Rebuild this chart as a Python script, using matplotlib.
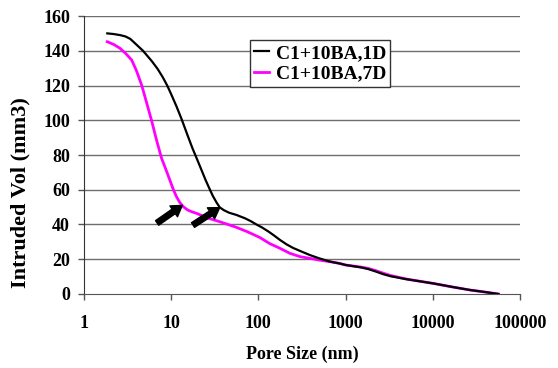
import matplotlib
matplotlib.use("Agg")
import matplotlib.pyplot as plt

plt.rcParams["font.family"] = ["Liberation Serif", "DejaVu Serif"]
plt.rcParams["font.weight"] = "bold"

# ---- data ----
size_1d = [1.85, 2.2, 2.6, 3.0, 3.4, 4.0, 4.75, 6.0, 7.0, 8.0, 9.0, 10, 11.5, 13.2,
           15.5, 17.5, 19.6, 22, 24.8, 27.9, 30, 33, 36, 40, 46, 56, 70, 82, 95,
           110, 130, 150, 177, 210, 250, 300, 390, 500, 665, 850, 1000, 1500, 1800,
           2200, 2700, 3300, 5000, 10100, 17000, 26700, 40000, 56500]
vol_1d = [150, 149.6, 149, 148.2, 146.8, 143.5, 140, 134, 129.5, 124.8, 120,
          115, 108, 100.5, 91, 84, 78.1, 72, 65.6, 59.9, 56.5, 52.8, 49.9,
          48.3, 46.8, 45.5, 43.6, 41.9, 40, 38.3, 36, 33.8, 31.1, 28.6, 26.5, 24.8,
          22.4, 20.5, 18.6, 17.6, 16.7, 15.3, 14.4, 13.0, 11.4, 10.2, 8.5, 6.1,
          4.0, 2.3, 1.1, 0]

size_7d = [1.85, 2.2, 2.59, 3.0, 3.52, 4.0, 4.58, 5.2, 5.97, 6.8, 7.77, 8.5, 9.5,
           10.6, 11.5, 12.5, 13.8, 15.5, 17.5, 19.6, 26, 36, 55, 75, 104, 135,
           177, 230, 300, 390, 500, 665, 850, 1000, 1500, 1800, 2200, 2700, 3300,
           5000, 10100, 17000, 26700, 40000, 56500]
vol_7d = [145.2, 143.6, 141.4, 138.5, 134.7, 128.5, 120.3, 110.5, 99.7, 88.5, 78,
          73, 66.5, 60, 56, 52.8, 50.2, 48.3, 47.2, 46.4, 43.8, 41.6, 38.5, 35.8,
          32.5, 29.0, 26.3, 23.4, 21.5, 20.5, 19.5, 18.6, 17.6, 16.7, 15.5, 14.8,
          13.5, 12.0, 10.6, 8.6, 6.1, 4.0, 2.3, 1.1, 0]

labels = ["C1+10BA,1D", "C1+10BA,7D"]
colors = ["black", "#ff00ff"]

# arrows: (tail_x, tail_y) -> (head_x, head_y) in data units
arrow_tail = [(6.9, 40.9), (17.8, 39.7)]
arrow_head = [(13.4, 51.0), (36.0, 49.7)]

xticks = [1, 10, 100, 1000, 10000, 100000]
yticks = [0, 20, 40, 60, 80, 100, 120, 140, 160]

# ---- plot ----
fig = plt.figure(figsize=(5.58, 3.68), dpi=100)
ax = fig.add_axes([0.1505, 0.2011, 0.7814, 0.7554])

for y in yticks[1:]:
    ax.axhline(y, color="#6e6e6e", lw=1.0, zorder=1)

ax.plot(size_1d, vol_1d, color=colors[0], lw=1.6, label=labels[0], zorder=4)
ax.plot(size_7d, vol_7d, color=colors[1], lw=2.0, label=labels[1], zorder=3)

for (tx, ty), (hx, hy) in zip(arrow_tail, arrow_head):
    ax.annotate("", xy=(hx, hy), xytext=(tx, ty),
                arrowprops=dict(arrowstyle="simple,head_length=0.75,head_width=0.95,tail_width=0.4",
                                color="black", shrinkA=0, shrinkB=0, mutation_scale=10),
                zorder=5)

ax.set_xscale("log")
ax.set_xlim(1, 100000)
ax.set_ylim(0, 160)
ax.set_xticks(xticks)
ax.set_xticklabels([str(v) for v in xticks])
ax.set_yticks(yticks)
ax.minorticks_off()
ax.tick_params(axis="both", direction="out", length=4, width=1, color="#555555",
               labelsize=13)
ax.tick_params(axis="x", pad=11)
ax.tick_params(axis="y", pad=6)
for lbl in ax.get_xticklabels() + ax.get_yticklabels():
    lbl.set_fontweight("bold")

for s in ["top", "right"]:
    ax.spines[s].set_visible(False)
ax.spines["left"].set_color("#333333")
ax.spines["bottom"].set_color("#555555")

ax.set_xlabel("Pore Size (nm)", fontsize=13, fontweight="bold")
ax.xaxis.set_label_coords(0.5, -0.185)
ax.set_ylabel("Intruded Vol (mm3)", fontsize=16, fontweight="bold")
ax.yaxis.set_label_coords(-0.122, 0.365)

leg = ax.legend(loc="upper left", bbox_to_anchor=(0.381, 0.913), fontsize=14,
                frameon=True, fancybox=False, framealpha=1, edgecolor="#333333",
                handlelength=0.75, handletextpad=0.35, borderpad=0.22, labelspacing=0.15,
                borderaxespad=0)
leg.get_frame().set_linewidth(1.0)
for t in leg.get_texts():
    t.set_fontweight("bold")

fig.savefig("out.png", dpi=100)
